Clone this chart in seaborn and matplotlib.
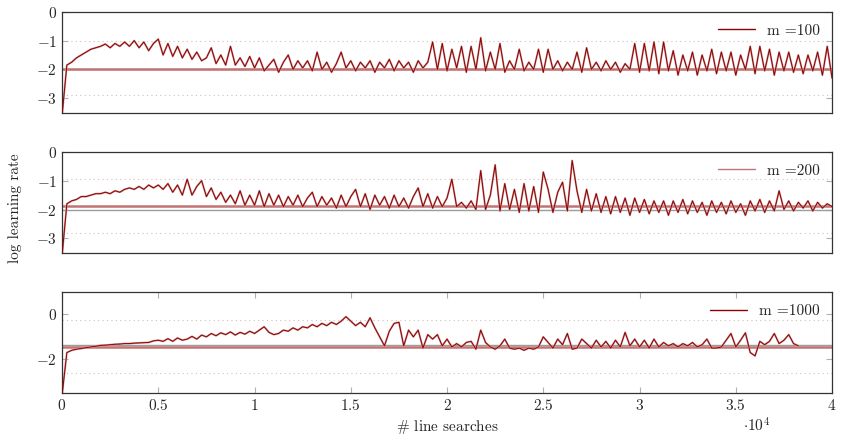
"""Log learning rate over line searches for three batch sizes m."""
import numpy as np
import pandas as pd
import matplotlib
matplotlib.use("Agg")
import matplotlib.pyplot as plt
import seaborn as sns

# sampling of the traces (line searches between two read values)
STEP = 250

m100 = [
    -3.6, -1.85, -1.75, -1.6, -1.5, -1.4, -1.3, -1.25, -1.2, -1.12,
    -1.25, -1.1, -1.2, -1.05, -1.2, -1.0, -1.25, -1.05, -1.35, -1.1,
    -0.95, -1.5, -1.1, -1.55, -1.2, -1.6, -1.3, -1.65, -1.4, -1.7,
    -1.6, -1.25, -1.8, -1.5, -1.85, -1.2, -1.85, -1.6, -1.9, -1.55,
    -1.95, -1.6, -2.05, -1.85, -1.65, -2.1, -1.75, -1.5, -2.0, -1.7,
    -1.95, -1.7, -2.05, -1.4, -2.0, -1.75, -2.1, -1.8, -1.4, -1.95,
    -1.7, -2.05, -1.75, -1.95, -1.7, -2.1, -1.75, -1.95, -1.65, -2.05,
    -1.7, -1.95, -1.75, -2.1, -1.7, -1.95, -1.75, -1.05, -2.0, -1.1,
    -2.05, -1.3, -1.95, -1.2, -2.1, -1.2, -2.0, -0.9, -2.05, -1.4,
    -2.0, -1.1, -2.1, -1.7, -2.0, -1.3, -2.05, -1.75, -2.0, -1.3,
    -2.1, -1.3, -2.0, -1.7, -2.05, -1.75, -2.0, -1.4, -2.1, -1.25,
    -2.0, -1.75, -2.05, -1.7, -2.0, -1.75, -2.1, -1.8, -2.0, -1.1,
    -2.1, -1.1, -2.05, -1.05, -2.15, -1.05, -2.05, -1.35, -2.2, -1.5,
    -2.05, -1.4, -2.2, -1.5, -2.05, -1.3, -2.15, -1.4, -2.05, -1.4,
    -2.2, -1.5, -2.0, -1.2, -2.15, -1.2, -2.05, -1.3, -2.2, -1.4,
    -2.05, -1.4, -2.1, -1.5, -2.15, -1.5, -2.05, -1.4, -2.2, -1.2,
    -2.3,
]

m200 = [
    -3.6, -1.8, -1.7, -1.65, -1.55, -1.55, -1.5, -1.45, -1.45, -1.4,
    -1.45, -1.35, -1.4, -1.3, -1.25, -1.3, -1.2, -1.3, -1.15, -1.25,
    -1.15, -1.3, -1.1, -1.4, -1.15, -1.5, -0.95, -1.5, -1.2, -1.0,
    -1.55, -1.25, -1.65, -1.4, -1.75, -1.5, -1.8, -1.35, -1.85, -1.5,
    -1.85, -1.35, -1.9, -1.45, -1.85, -1.5, -1.9, -1.55, -1.85, -1.5,
    -1.9, -1.6, -1.4, -1.9, -1.55, -1.85, -1.6, -1.95, -1.5, -1.9,
    -1.55, -1.3, -1.9, -1.45, -2.0, -1.5, -1.85, -1.55, -1.95, -1.5,
    -1.9, -1.6, -1.95, -1.55, -1.25, -1.9, -1.45, -1.95, -1.55, -1.9,
    -1.6, -0.95, -1.9, -1.75, -1.95, -1.7, -2.0, -0.65, -2.0, -1.5,
    -0.45, -2.05, -1.1, -2.0, -1.3, -2.1, -1.1, -2.05, -1.2, -2.1,
    -0.7, -1.3, -2.1, -1.4, -1.05, -2.05, -0.3, -1.35, -2.1, -1.3,
    -2.05, -1.45, -2.1, -1.55, -2.15, -1.55, -2.1, -1.6, -2.2, -1.6,
    -2.1, -1.65, -2.15, -1.7, -2.1, -1.7, -2.2, -1.7, -2.1, -1.65,
    -2.15, -1.7, -2.1, -1.75, -2.2, -1.7, -2.1, -1.75, -2.15, -1.7,
    -2.1, -1.8, -2.2, -1.7, -2.05, -1.65, -2.1, -1.7, -2.05, -1.35,
    -2.0, -1.7, -2.05, -1.75, -1.95, -1.7, -2.05, -1.75, -1.95, -1.8,
    -1.9,
]

m1000 = [
    -3.6, -1.7, -1.6, -1.55, -1.52, -1.48, -1.45, -1.42, -1.38, -1.37,
    -1.35, -1.33, -1.32, -1.3, -1.3, -1.28, -1.27, -1.26, -1.25, -1.18,
    -1.15, -1.2, -1.08, -1.2, -1.05, -1.15, -1.1, -0.98, -1.1, -0.92,
    -1.0, -0.85, -0.95, -0.82, -0.9, -0.78, -0.92, -0.8, -0.88, -0.75,
    -0.85, -0.7, -0.55, -0.8, -0.9, -0.85, -0.7, -0.75, -0.6, -0.7,
    -0.55, -0.6, -0.45, -0.55, -0.4, -0.5, -0.35, -0.45, -0.3, -0.1,
    -0.3, -0.5, -0.35, -0.55, -0.15, -0.6, -1.0, -1.4, -0.75, -0.4,
    -0.35, -1.4, -0.7, -1.0, -0.7, -1.5, -0.9, -1.1, -0.9, -1.4,
    -1.1, -1.45, -1.3, -1.45, -1.25, -1.2, -1.55, -0.7, -1.25, -1.45,
    -1.55, -1.4, -1.1, -1.5, -1.55, -1.5, -1.6, -1.5, -1.55, -1.45,
    -1.0, -1.25, -1.5, -1.1, -1.35, -0.85, -1.55, -1.5, -1.1, -1.3,
    -1.5, -1.15, -1.45, -1.2, -1.5, -1.15, -1.45, -0.8, -1.4, -1.1,
    -1.45, -1.15, -1.5, -1.1, -1.45, -1.25, -1.4, -1.3, -1.45, -1.3,
    -1.4, -1.25, -1.45, -1.35, -1.1, -1.5, -1.5, -1.45, -1.15, -0.85,
    -1.45, -1.15, -0.82, -1.7, -1.85, -1.2, -1.35, -1.2, -0.85, -1.3,
    -1.15, -0.9, -1.3, -1.4,
]

labels = ["m =100", "m =200", "m =1000"]
series = [m100, m200, m1000]

# reference levels per panel (grey line, red line) and dotted band
grey_level = [-1.98, -2.0, -1.35]
red_level = [-2.0, -1.88, -1.45]
band = [(-1.0, -2.9), (-0.93, -2.82), (-0.27, -2.62)]
yticks = [[0, -1, -2, -3], [0, -1, -2, -3], [0, -2]]
ylims = [(-3.5, 0), (-3.5, 0), (-3.5, 1)]
xticks = [0, 5000, 10000, 15000, 20000, 25000, 30000, 35000, 40000]
xticklabels = ["0", "0.5", "1", "1.5", "2", "2.5", "3", "3.5", "4"]

DARK = "#8b0000"
LIGHT = "#d29a9a"
REDLINE = "#c27373"
GREY = "#9c9c9c"
DOT = "#d6bcbc"

sns.set_style("white")
plt.rcParams["font.family"] = "serif"
plt.rcParams["font.serif"] = ["cmr10", "DejaVu Serif"]
plt.rcParams["mathtext.fontset"] = "cm"
plt.rcParams["axes.unicode_minus"] = False

fig, axes = plt.subplots(3, 1, figsize=(8.43, 4.44), dpi=100)
fig.subplots_adjust(left=0.0736, right=0.987, top=0.9736, bottom=0.115, hspace=0.388)

for k, ax in enumerate(axes):
    df = pd.DataFrame({"x": np.arange(len(series[k])) * STEP, "y": series[k]})

    for lev in band[k]:
        ax.axhline(lev, color=DOT, lw=0.8, ls=(0, (1, 3)), zorder=0)
    ax.axhline(grey_level[k], color=GREY, lw=1.0, zorder=1)
    ax.axhline(red_level[k], color=REDLINE, lw=1.8, zorder=1)

    sns.lineplot(data=df, x="x", y="y", ax=ax, color=LIGHT, lw=1.4,
                 estimator=None, sort=False, zorder=2)
    sns.lineplot(data=df, x="x", y="y", ax=ax, color=DARK, lw=0.7,
                 estimator=None, sort=False, zorder=3)

    ax.set_xlim(0, 40000)
    ax.set_ylim(*ylims[k])
    ax.set_yticks(yticks[k])
    ax.set_yticklabels([rf"${v}$" for v in yticks[k]], fontsize=11)
    ax.set_xlabel("")
    ax.set_ylabel("")
    ax.tick_params(axis="both", direction="in", length=4, width=0.8,
                   color="#b0b0b0", left=True, right=True, top=True, bottom=True)
    if k < 2:
        ax.set_xticks([])
    else:
        ax.set_xticks(xticks)
        ax.set_xticklabels([rf"${t}$" for t in xticklabels], fontsize=11)
    for sp in ax.spines.values():
        sp.set_color("#333333")
        sp.set_linewidth(0.9)

    handle_color = REDLINE if k == 1 else DARK
    h = plt.Line2D([], [], color=handle_color, lw=1.0)
    ax.legend([h], [labels[k]], loc="upper right", frameon=False, fontsize=11,
              handlelength=2.4, borderaxespad=0.4)

axes[2].set_xlabel(r"$\#$ line searches", fontsize=11, labelpad=4)
fig.text(0.018, 0.53, "log learning rate", rotation=90, fontsize=11,
         ha="center", va="center")
fig.text(0.898, 0.02, r"$\cdot 10^4$", fontsize=11, ha="center", va="bottom")

fig.savefig("out.png", dpi=100)
